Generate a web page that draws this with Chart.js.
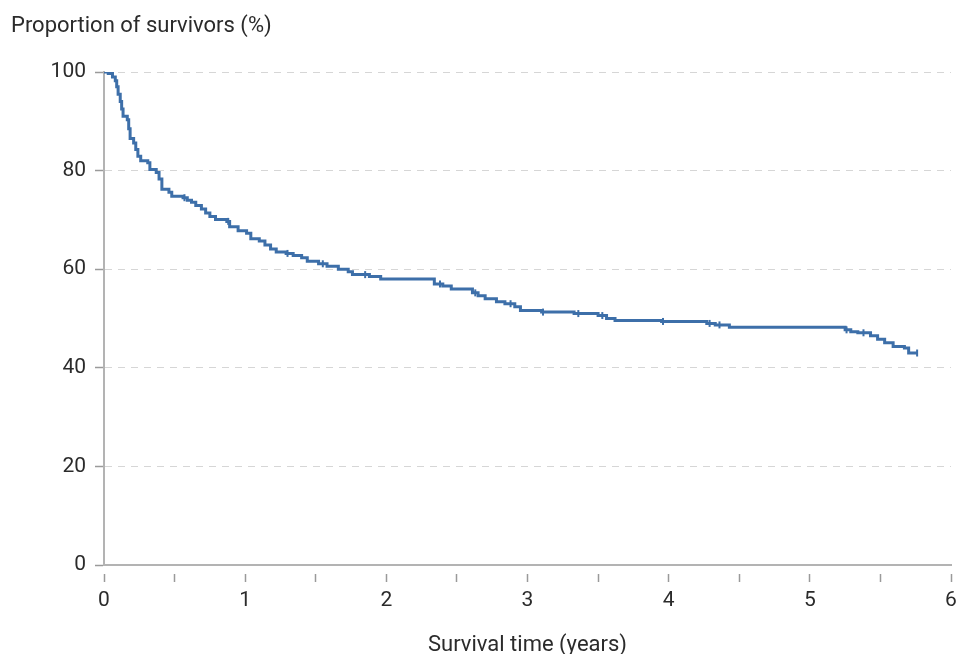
<!DOCTYPE html>
<html><head><meta charset="utf-8">
<script src="https://cdn.jsdelivr.net/npm/chart.js@4"></script>
<style>html,body{margin:0;padding:0;background:#fff}#wrap{width:957px;height:654px;position:relative}</style>
</head><body><div id="wrap"><canvas id="c" width="957" height="654"></canvas></div>
<script>
const yAxisTitle = 'Proportion of survivors (%)';
const xAxisTitle = 'Survival time (years)';

// Kaplan-Meier step points: time (years) and survival (%) after each step
const timeYears = [0.00,0.03,0.06,0.08,0.09,0.10,0.115,0.125,0.135,0.165,0.175,0.185,0.21,0.225,0.24,0.26,0.31,0.325,0.37,0.39,0.41,0.46,0.48,0.56,0.59,0.62,0.65,0.69,0.72,0.75,0.79,0.87,0.89,0.95,1.01,1.04,1.10,1.14,1.18,1.22,1.29,1.34,1.40,1.44,1.52,1.58,1.66,1.73,1.76,1.88,1.96,2.34,2.40,2.46,2.61,2.65,2.70,2.78,2.84,2.91,2.95,3.10,3.33,3.50,3.56,3.62,3.95,4.27,4.33,4.43,5.25,5.29,5.34,5.43,5.48,5.53,5.59,5.67,5.70,5.76];
const survivalPct = [100,99.7,99.0,98.2,97.0,95.5,94.0,92.5,91.0,90.3,88.5,86.5,85.6,84.3,82.9,82.0,81.6,80.2,79.6,78.3,76.2,75.6,74.8,74.5,74.0,73.6,72.9,72.2,71.4,70.7,70.1,69.7,68.6,67.8,67.3,66.2,65.7,64.9,64.1,63.5,63.2,62.8,62.3,61.6,61.1,60.6,60.0,59.5,58.9,58.5,58.0,57.0,56.6,56.0,55.2,54.6,54.0,53.4,53.0,52.4,51.6,51.3,51.0,50.6,50.0,49.6,49.4,49.0,48.7,48.2,47.7,47.3,47.1,46.5,45.8,45.1,44.3,44.0,43.0,43.0];

// censored observations (tick marks)
const censorYears = [0.57,0.88,1.30,1.55,1.85,2.38,2.63,2.88,3.11,3.36,3.53,3.96,4.29,4.36,5.26,5.38,5.76];
const censorPct   = [74.5,69.7,63.2,61.1,58.9,57.0,55.2,53.0,51.3,51.0,50.6,49.4,49.0,48.7,47.7,47.1,43.0];

const xTickPositions = [0,0.5,1,1.5,2,2.5,3,3.5,4,4.5,5,5.5,6];
const xTickLabels = {0:'0',1:'1',2:'2',3:'3',4:'4',5:'5',6:'6'};
const yTickValues = [0,20,40,60,80,100];

const FONT = 'Roboto, "DejaVu Sans", sans-serif';
const TEXT = '#2b2b2b';
const LINE = '#3d6fa9';

const yTitlePlugin = {
  id: 'yTitle',
  afterDraw(chart) {
    const ctx = chart.ctx;
    ctx.save();
    ctx.fillStyle = TEXT;
    ctx.font = '22px ' + FONT;
    ctx.textAlign = 'left';
    ctx.textBaseline = 'middle';
    ctx.fillText(yAxisTitle, 11, 26);
    ctx.restore();
  }
};

new Chart(document.getElementById('c'), {
  type: 'line',
  data: {
    datasets: [
      {
        data: timeYears.map((t, i) => ({x: t, y: survivalPct[i]})),
        borderColor: LINE,
        borderWidth: 3,
        stepped: true,
        pointRadius: 0,
        fill: false
      },
      {
        data: censorYears.map((t, i) => ({x: t, y: censorPct[i]})),
        showLine: false,
        pointStyle: 'line',
        rotation: 90,
        pointRadius: 3.5,
        pointBorderWidth: 2,
        pointBorderColor: LINE,
        borderColor: LINE
      }
    ]
  },
  options: {
    responsive: false,
    devicePixelRatio: 1,
    animation: false,
    layout: {padding: {top: 72, right: 5, bottom: 0, left: 0}},
    plugins: {legend: {display: false}, tooltip: {enabled: false}},
    scales: {
      x: {
        type: 'linear',
        min: 0, max: 6,
        afterFit: s => { s.height = 89; s.paddingRight = 0; s.paddingLeft = 0; },
        afterBuildTicks: s => { s.ticks = xTickPositions.map(v => ({value: v})); },
        ticks: {
          autoSkip: false, maxRotation: 0, padding: 6,
          color: TEXT, font: {family: FONT, size: 21},
          callback: v => (xTickLabels[v] !== undefined ? xTickLabels[v] : '')
        },
        grid: {
          drawOnChartArea: false, drawTicks: true, tickLength: 17,
          tickColor: '#9a9a9a', tickWidth: 1.5,
          tickBorderDash: [9, 100], tickBorderDashOffset: -8
        },
        border: {display: true, color: '#b3b3b3', width: 2},
        title: {display: true, text: xAxisTitle, color: TEXT,
                font: {family: FONT, size: 22, lineHeight: 1.0}, padding: {top: 0, bottom: -2}}
      },
      y: {
        min: 0, max: 100,
        afterFit: s => { s.width = 104; },
        afterBuildTicks: s => { s.ticks = yTickValues.map(v => ({value: v})); },
        ticks: {padding: 9, color: TEXT, font: {family: FONT, size: 21}},
        grid: {
          color: '#d6d6d6', lineWidth: 1,
          drawTicks: true, tickLength: 9, tickColor: '#9a9a9a', tickWidth: 1.5
        },
        border: {display: true, color: '#b3b3b3', width: 2, dash: [7, 6]}
      }
    }
  },
  plugins: [yTitlePlugin]
});
</script></body></html>
